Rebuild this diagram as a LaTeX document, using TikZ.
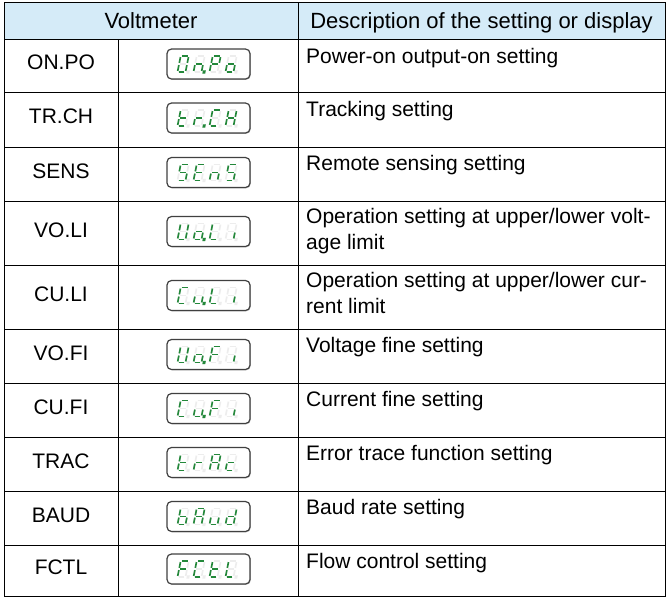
\documentclass[tikz,border=0pt]{standalone}
\usepackage{fontspec}
\setmainfont{Liberation Sans}
\usetikzlibrary{shadows}
\definecolor{hdrfill}{HTML}{D5EBF8}
\definecolor{segc}{HTML}{23883A}
\definecolor{segoffc}{HTML}{EDEDED}
\definecolor{boxc}{HTML}{404040}
\newcommand{\svsa}[1]{\draw[#1] (1.1,-16)--(6.9,-16);}
\newcommand{\svsb}[1]{\draw[#1] (8,-14.9)--(8,-9.1);}
\newcommand{\svsc}[1]{\draw[#1] (8,-6.9)--(8,-1.1);}
\newcommand{\svsd}[1]{\draw[#1] (1.1,0)--(6.9,0);}
\newcommand{\svse}[1]{\draw[#1] (0,-6.9)--(0,-1.1);}
\newcommand{\svsf}[1]{\draw[#1] (0,-14.9)--(0,-9.1);}
\newcommand{\svsg}[1]{\draw[#1] (1.1,-8)--(6.9,-8);}
\newcommand{\svsp}[1]{\fill[#1] (10,-0.8) rectangle (11.2,0.8);}
\newcommand{\sevdigit}[2]{%
  \begin{scope}[shift={#1},xslant=0.2]
    \foreach \s in {a,b,c,d,e,f,g,p} {\csname svs\s\endcsname{segoff}}
    \foreach \s in {#2} {\csname svs\s\endcsname{segon}}
  \end{scope}}
\newcommand{\dispunit}[6]{%
  \node[dispbox] (#1) at (208.5,#2) {};
  \sevdigit{(177.5,#2+8)}{#3}
  \sevdigit{(193.5,#2+8)}{#4}
  \sevdigit{(209.5,#2+8)}{#5}
  \sevdigit{(225.5,#2+8)}{#6}}
\begin{document}
\begin{tikzpicture}[x=1pt,y=-1pt,
  segon/.style={draw=segc,fill=segc,line width=1.6pt},
  segoff/.style={draw=segoffc,fill=segoffc,line width=1.6pt},
  dispbox/.style={draw=boxc,line width=1.2pt,rounded corners=4.5pt,fill=white,
    minimum width=83pt,minimum height=30pt,inner sep=0pt,
    drop shadow={shadow xshift=0.8pt,shadow yshift=-0.8pt,opacity=0.45,fill=black!60}},
  lbl/.style={font=\fontsize{21}{25}\selectfont,inner sep=0pt},
  hdr/.style={font=\fontsize{22}{25}\selectfont,inner sep=0pt,anchor=base},
  desc/.style={font=\fontsize{21}{25}\selectfont,inner sep=0pt,anchor=base west},
  grid/.style={line width=1pt,draw=black}]
\useasboundingbox (0,0) rectangle (669,598);
% header
\fill[hdrfill] (4,2) rectangle (665,39);
\node[hdr] (h1) at (151,28) {Voltmeter};
\node[hdr] (h2) at (481.5,28) {Description of the setting or display};
% grid lines
\draw[grid] (4,2) rectangle (665,596);
\foreach \yy in {39,92,147,201,265,329,383,437,491,545} {\draw[grid] (4,\yy) -- (665,\yy);}
\draw[grid] (118,39) -- (118,596);
\draw[grid] (298,2) -- (298,596);
% rows
\node[lbl] (l1) at (61,62.5) {ON.PO};
\dispunit{d1}{64}{a,b,c,d,e,f}{c,e,g,p}{a,b,e,f,g}{c,d,e,g}
\node[desc] (t1) at (306,63) {Power-on output-on setting};
\node[lbl] (l2) at (61,116.5) {TR.CH};
\dispunit{d2}{118}{d,e,f,g}{e,g,p}{a,d,e,f}{b,c,e,f,g}
\node[desc] (t2) at (306,116) {Tracking setting};
\node[lbl] (l3) at (61,171) {SENS};
\dispunit{d3}{172.5}{a,c,d,f,g}{a,d,e,f,g}{c,e,g}{a,c,d,f,g}
\node[desc] (t3) at (306,170) {Remote sensing setting};
\node[lbl] (l4) at (61,230) {VO.LI};
\dispunit{d4}{231.5}{b,c,d,e,f}{c,d,e,g,p}{d,e,f}{c}
\node[desc] (t4a) at (306,223) {Operation setting at upper/lower volt-};
\node[desc] (t4b) at (306,249.5) {age limit};
\node[lbl] (l5) at (61,294) {CU.LI};
\dispunit{d5}{295.5}{a,d,e,f}{c,d,e,p}{d,e,f}{c}
\node[desc] (t5a) at (306,287) {Operation setting at upper/lower cur-};
\node[desc] (t5b) at (306,313.5) {rent limit};
\node[lbl] (l6) at (61,353) {VO.FI};
\dispunit{d6}{354.5}{b,c,d,e,f}{c,d,e,g,p}{a,e,f,g}{c}
\node[desc] (t6) at (306,352) {Voltage fine setting};
\node[lbl] (l7) at (61,407) {CU.FI};
\dispunit{d7}{408.5}{a,d,e,f}{c,d,e,p}{a,e,f,g}{c}
\node[desc] (t7) at (306,406) {Current fine setting};
\node[lbl] (l8) at (61,461) {TRAC};
\dispunit{d8}{462.5}{d,e,f,g}{e,g}{a,b,c,e,f,g}{d,e,g}
\node[desc] (t8) at (306,460) {Error trace function setting};
\node[lbl] (l9) at (61,515) {BAUD};
\dispunit{d9}{516.5}{c,d,e,f,g}{a,b,c,e,f,g}{c,d,e}{b,c,d,e,g}
\node[desc] (t9) at (306,514) {Baud rate setting};
\node[lbl] (l10) at (61,567.5) {FCTL};
\dispunit{d10}{569}{a,e,f,g}{a,d,e,f}{d,e,f,g}{d,e,f}
\node[desc] (t10) at (306,568) {Flow control setting};
\end{tikzpicture}
\end{document}
